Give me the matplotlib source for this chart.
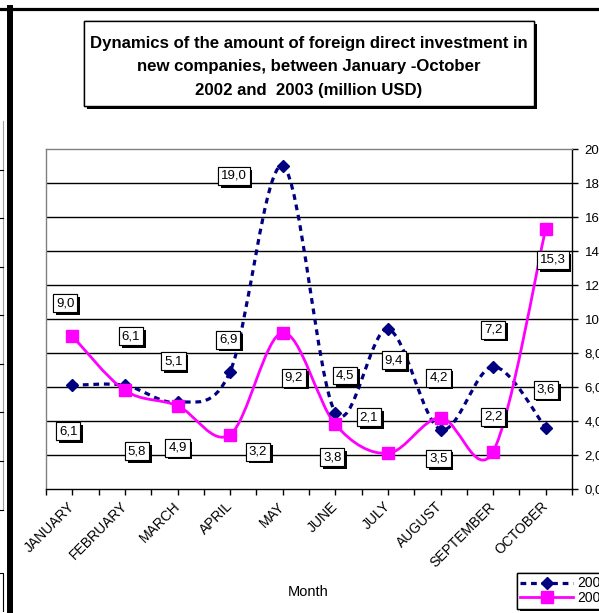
import numpy as np
import matplotlib
matplotlib.use('Agg')
import matplotlib.pyplot as plt
from matplotlib.path import Path
from matplotlib.patches import PathPatch, Rectangle
from matplotlib.lines import Line2D
from matplotlib.transforms import ScaledTranslation
import matplotlib.patheffects as pe

plt.rcParams['font.family'] = ['Liberation Sans', 'DejaVu Sans']

months = ['JANUARY', 'FEBRUARY', 'MARCH', 'APRIL', 'MAY', 'JUNE',
          'JULY', 'AUGUST', 'SEPTEMBER', 'OCTOBER']
inv_2002 = [6.1, 6.1, 5.1, 6.9, 19.0, 4.5, 9.4, 3.5, 7.2, 3.6]
inv_2003 = [9.0, 5.8, 4.9, 3.2, 9.2, 3.8, 2.1, 4.2, 2.2, 15.3]
series_names = ['2002', '2003']
y_ticks = [0, 2, 4, 6, 8, 10, 12, 14, 16, 18, 20]

# label box offsets from the point, in pixels (right, up)
off_2002 = [(-4, -46), (6, 49), (-4, 41), (-2, 32), (-49, -10),
            (10, 37), (6, -31), (-2, -29), (0, 37), (0, 38)]
off_2003 = [(-7, 33), (12, -61), (0, -42), (28, -17), (11, -45),
            (-3, -33), (-19, 36), (-2, 40), (0, 35), (7, -31)]

W, H = 599, 613
NAVY = '#000080'
MAGENTA = '#FF00FF'
DASH = (0, (1.8, 1.5))
shadow = [pe.withSimplePatchShadow(offset=(2, -2), shadow_rgbFace='black', alpha=1.0), pe.Normal()]


def fx(px):
    return px / W


def fy(py):
    return 1 - py / H


def smooth_path(xs, ys):
    # bezier curve through the points, like the spreadsheet "smoothed line"
    pts = np.column_stack([xs, ys]).astype(float)
    n = len(pts)
    verts = [pts[0]]
    codes = [Path.MOVETO]
    for i in range(n - 1):
        p0 = pts[max(i - 1, 0)]
        p1 = pts[i]
        p2 = pts[i + 1]
        p3 = pts[min(i + 2, n - 1)]
        verts += [p1 + (p2 - p0) / 6, p2 - (p3 - p1) / 6, p2]
        codes += [Path.CURVE4] * 3
    return Path(verts, codes)


fig = plt.figure(figsize=(W / 100, H / 100), dpi=100)
ax = fig.add_axes([fx(46), fy(489), fx(572) - fx(46), fy(149) - fy(489)])

x = np.arange(len(months))

ax.set_xlim(-0.5, len(months) - 0.5)
ax.set_ylim(0, 20)
ax.hlines(y_ticks[1:-1], -0.5, len(months) - 0.5, color='black', lw=1, zorder=1)

# 2002 - dashed navy with diamonds
ax.add_patch(PathPatch(smooth_path(x, inv_2002), fill=False, edgecolor=NAVY, lw=2.3,
                       linestyle=DASH, zorder=3, capstyle='butt'))
ax.plot(x, inv_2002, linestyle='none', marker='D', ms=6.2, color=NAVY, zorder=4)
# 2003 - solid magenta with squares
ax.add_patch(PathPatch(smooth_path(x, inv_2003), fill=False, edgecolor=MAGENTA, lw=2.0, zorder=3))
ax.plot(x, inv_2003, linestyle='none', marker='s', ms=9, color=MAGENTA, zorder=4)

for vals, offs in ((inv_2002, off_2002), (inv_2003, off_2003)):
    for i, (v, o) in enumerate(zip(vals, offs)):
        t = ax.annotate(f'{v:.1f}'.replace('.', ','), (x[i], v), xytext=o,
                        textcoords='offset pixels', ha='center', va='center',
                        fontsize=9.5, zorder=6,
                        bbox=dict(boxstyle='square,pad=0.22', fc='white', ec='black', lw=0.8))
        t.get_bbox_patch().set_path_effects(shadow)

# axes styling
ax.yaxis.tick_right()
ax.set_yticks(y_ticks)
ax.set_yticklabels([f'{v:.1f}'.replace('.', ',') for v in y_ticks], fontsize=9.5)
ax.set_xticks(x)
ax.set_xticks(np.arange(-0.5, len(months), 1.0), minor=True)
ax.set_xticklabels(months, rotation=45, ha='right', va='center',
                   rotation_mode='anchor', fontsize=10)
shift = ScaledTranslation(-0.08, 0, fig.dpi_scale_trans)
for lab in ax.get_xticklabels():
    lab.set_transform(lab.get_transform() + shift)
ax.tick_params(axis='y', direction='out', length=4, width=1, pad=5, colors='black')
ax.tick_params(axis='x', which='both', direction='out', length=4, width=1, pad=7)
for side in ('top', 'left'):
    ax.spines[side].set_color('#808080')
for side in ('bottom', 'right'):
    ax.spines[side].set_color('black')
for s in ax.spines.values():
    s.set_linewidth(1)

fig.text(fx(308), fy(592), 'Month', ha='center', va='center', fontsize=10.5)

# legend (cut off by the right edge)
h1 = Line2D([], [], color=NAVY, lw=2.3, linestyle=DASH, marker='D', ms=6.2)
h2 = Line2D([], [], color=MAGENTA, lw=2.0, marker='s', ms=9)
leg = fig.legend([h1, h2], series_names, loc='upper left',
                 bbox_to_anchor=(fx(517), fy(573)), fontsize=10, frameon=True,
                 fancybox=False, edgecolor='black', framealpha=1, handlelength=3.8,
                 handletextpad=0.3, borderpad=0.25, labelspacing=0.05, borderaxespad=0)
leg.get_frame().set_linewidth(1)
leg.get_frame().set_path_effects(shadow)

# title box
tbox = Rectangle((fx(84), fy(106)), fx(534) - fx(84), fy(21) - fy(106), transform=fig.transFigure,
                 fc='white', ec='black', lw=1, zorder=5)
tbox.set_path_effects([pe.withSimplePatchShadow(offset=(2.2, -2.2), shadow_rgbFace='black', alpha=1.0),
                       pe.Normal()])
fig.add_artist(tbox)
fig.text(fx(309), fy(67), 'Dynamics of the amount of foreign direct investment in\n'
         'new companies, between January -October\n2002 and  2003 (million USD)',
         ha='center', va='center', fontsize=12.1, fontweight='bold', linespacing=1.72, zorder=6)

# frame remains at the left and top of the page
fig.add_artist(Line2D([fx(0), fx(W)], [fy(8.5), fy(8.5)], color='black', lw=2.3))
fig.add_artist(Line2D([fx(9.5), fx(9.5)], [fy(8), fy(H)], color='black', lw=4.3))
fig.add_artist(Line2D([fx(3), fx(3)], [fy(121), fy(510)], color='#a0a0a0', lw=0.8))
for yy in (170, 218, 267, 315, 364, 412, 461, 510):
    fig.add_artist(Line2D([fx(0), fx(3)], [fy(yy), fy(yy)], color='black', lw=0.8))
fig.add_artist(Line2D([fx(0), fx(3), fx(3)], [fy(573), fy(573), fy(611)], color='black', lw=0.8))

fig.savefig('out.png', dpi=100)
